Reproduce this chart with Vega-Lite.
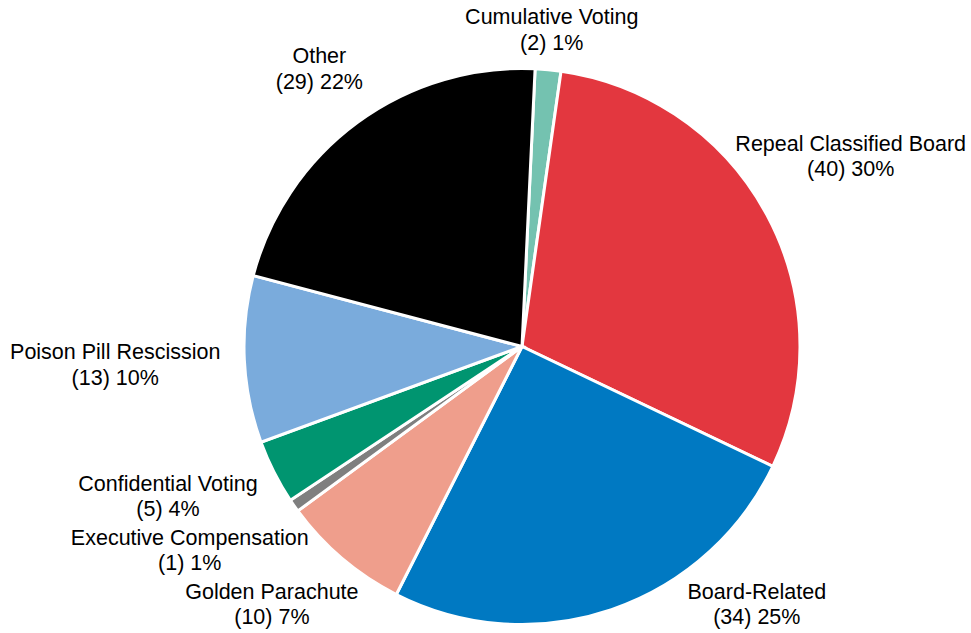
{
  "$schema": "https://vega.github.io/schema/vega-lite/v6.json",
  "width": 898,
  "height": 573,
  "autosize": {"type": "none"},
  "padding": {"left": 73, "top": 60, "right": 0, "bottom": 0},
  "background": "white",
  "config": {"view": {"stroke": null}},
  "data": {
    "values": [
      {"name": "Cumulative Voting", "count": 2},
      {"name": "Repeal Classified Board", "count": 40},
      {"name": "Board-Related", "count": 34},
      {"name": "Golden Parachute", "count": 10},
      {"name": "Executive Compensation", "count": 1},
      {"name": "Confidential Voting", "count": 5},
      {"name": "Poison Pill Rescission", "count": 13},
      {"name": "Other", "count": 29}
    ]
  },
  "transform": [
    {"window": [{"op": "row_number", "as": "idx"}]},
    {"window": [{"op": "sum", "field": "count", "as": "cum"}], "sort": [{"field": "idx"}], "frame": [null, 0]},
    {"joinaggregate": [{"op": "sum", "field": "count", "as": "total"}]},
    {"calculate": "round(datum.count / datum.total * 100)", "as": "pct"},
    {"calculate": "'(' + datum.count + ') ' + datum.pct + '%'", "as": "line2"},
    {"calculate": "datum.name + '\\n' + datum.line2", "as": "label"},
    {"calculate": "0.0471 + 2 * PI * (datum.cum - datum.count / 2) / datum.total", "as": "mid"},
    {"calculate": "5.1 * max(length(datum.name), length(datum.line2))", "as": "w"},
    {"calculate": "(sin(datum.mid) < 0 ? 300 : 286) + datum.w * abs(sin(datum.mid)) + 23 * abs(cos(datum.mid))", "as": "d"},
    {"calculate": "-cos(datum.mid) * datum.d", "as": "oy0"},
    {"calculate": "clamp(datum.oy0, -316, 259)", "as": "oy1"},
    {"window": [{"op": "lag", "field": "oy1", "as": "prevOy"}, {"op": "lag", "field": "mid", "as": "prevMid"}], "sort": [{"field": "idx"}]},
    {"calculate": "isValid(datum.prevOy) && sin(datum.mid) < 0 && cos(datum.mid) < 0 && sin(datum.prevMid) < 0 ? min(datum.oy1, datum.prevOy - 54) : datum.oy1", "as": "oy2"},
    {"window": [{"op": "lag", "field": "oy2", "as": "prevOy2"}], "sort": [{"field": "idx"}]},
    {"calculate": "isValid(datum.prevOy2) && sin(datum.mid) < 0 && cos(datum.mid) < 0 && sin(datum.prevMid) < 0 ? min(datum.oy2, datum.prevOy2 - 54) : datum.oy2", "as": "oy"},
    {"calculate": "sin(datum.mid) * datum.d", "as": "ox0"},
    {"calculate": "datum.oy0 > datum.oy1 ? (datum.ox0 < 0 ? -1 : 1) * max(abs(datum.ox0), sqrt(max(0, 290 * 290 - pow(abs(datum.oy) - 23, 2))) + datum.w) : datum.ox0", "as": "ox1"},
    {"calculate": "clamp(datum.ox1, datum.w - 519, 446 - datum.w)", "as": "ox"},
    {"calculate": "449 + datum.ox", "as": "lx"},
    {"calculate": "286.5 + datum.oy - 12.75", "as": "ly"}
  ],
  "layer": [
    {
      "mark": {"type": "arc", "outerRadius": 278, "stroke": "white", "strokeWidth": 3},
      "encoding": {
        "theta": {"field": "count", "type": "quantitative", "stack": true, "scale": {"range": [0.0471, 6.3303]}},
        "order": {"field": "idx", "type": "quantitative"},
        "color": {
          "field": "name",
          "type": "nominal",
          "legend": null,
          "scale": {
            "domain": ["Cumulative Voting", "Repeal Classified Board", "Board-Related", "Golden Parachute", "Executive Compensation", "Confidential Voting", "Poison Pill Rescission", "Other"],
            "range": ["#74C2B0", "#E3373F", "#0079C2", "#EF9E8C", "#7F7F7F", "#009570", "#7AABDC", "#000000"]
          }
        }
      }
    },
    {
      "mark": {"type": "text", "align": "center", "baseline": "middle", "font": "Liberation Sans", "fontSize": 21.5, "lineHeight": 25.5, "lineBreak": "\n", "color": "#000000"},
      "encoding": {
        "x": {"field": "lx", "type": "quantitative", "scale": null},
        "y": {"field": "ly", "type": "quantitative", "scale": null},
        "text": {"field": "label", "type": "nominal"}
      }
    }
  ]
}
